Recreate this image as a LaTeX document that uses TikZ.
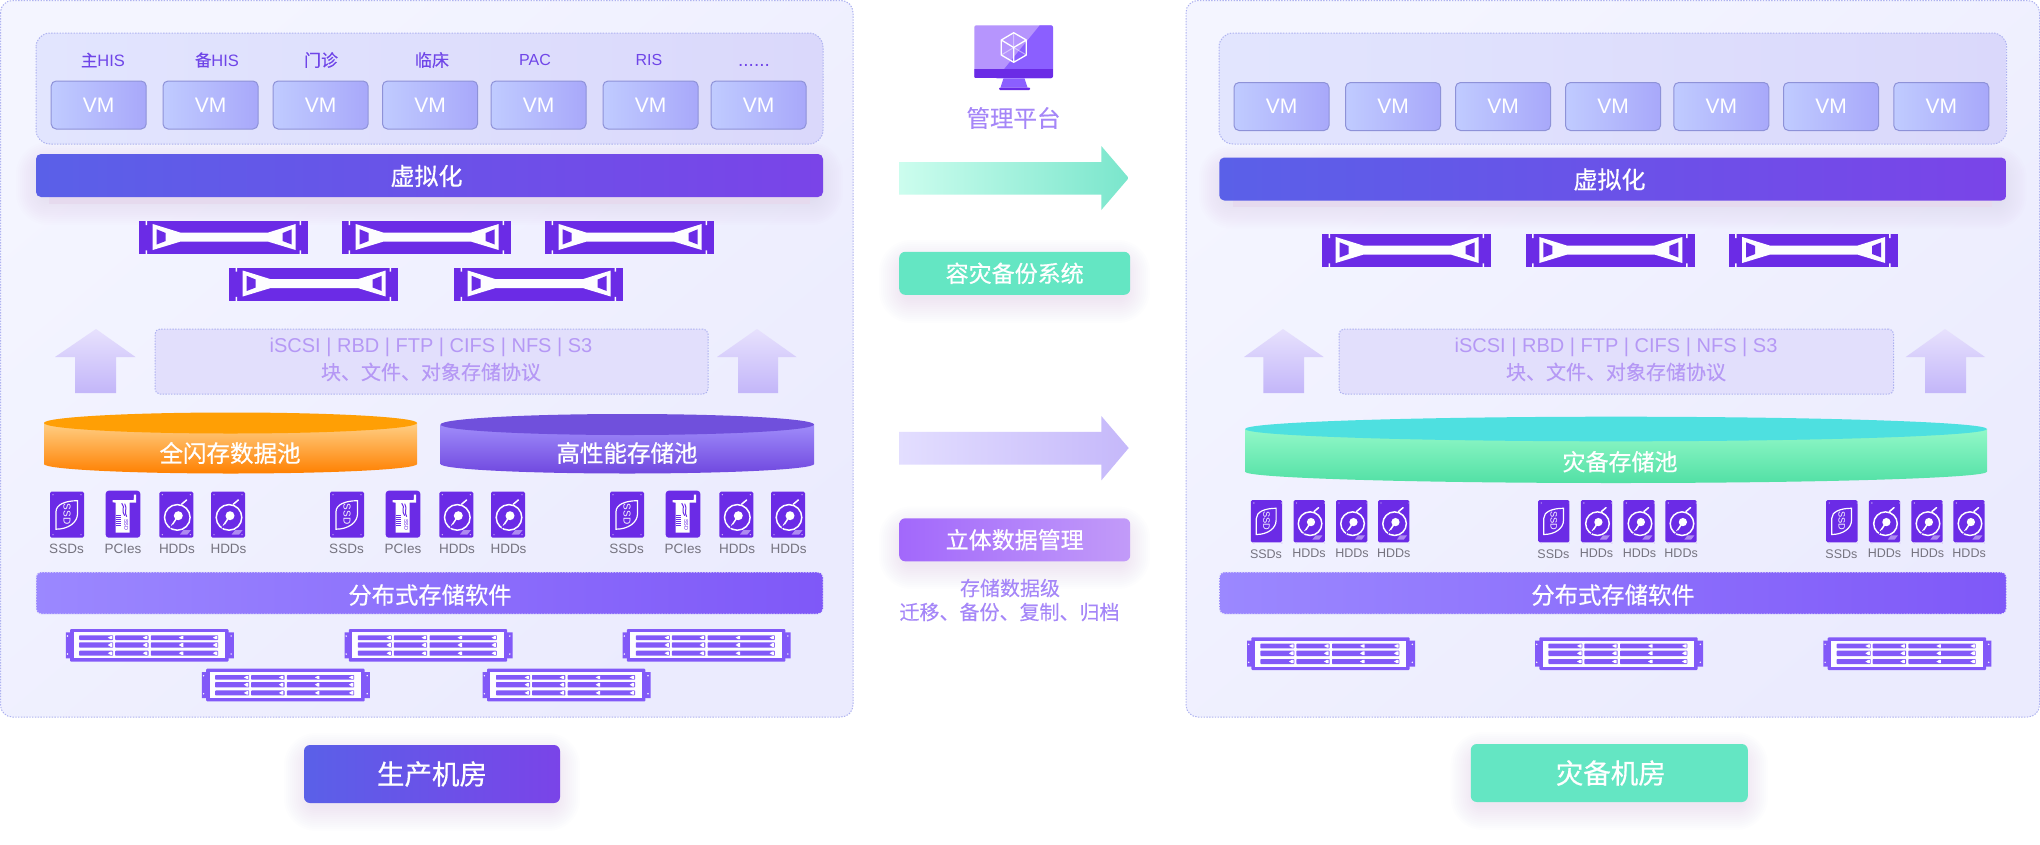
\documentclass[tikz,border=0pt]{standalone}
\usepackage{fontspec}
\setmainfont{Liberation Sans}
\newfontfamily\cjk[FakeBold=0.12]{Noto Sans CJK SC}
\newfontfamily\cjkm[FakeBold=0.6]{Noto Sans CJK SC}
\newcommand\px[1]{\fontsize{#1}{#1}\selectfont}
\definecolor{panelA}{HTML}{F4F5FF}
\definecolor{panelB}{HTML}{EBEBFE}
\definecolor{dotline}{HTML}{AEB2F0}
\definecolor{contA}{HTML}{E2E5FE}
\definecolor{contB}{HTML}{DAD8FB}
\definecolor{vmA}{HTML}{C0CBFF}
\definecolor{vmB}{HTML}{A8A8FA}
\definecolor{vmline}{HTML}{8E92D8}
\definecolor{grA}{HTML}{5A60E8}
\definecolor{grB}{HTML}{7A44E8}
\definecolor{deep}{HTML}{6B2BE6}
\definecolor{soft}{HTML}{8259F8}
\definecolor{softA}{HTML}{9B88FF}
\definecolor{softB}{HTML}{7F58F8}
\definecolor{lilac}{HTML}{A586F8}
\definecolor{labelpurple}{HTML}{6F45E8}
\definecolor{proto}{HTML}{B598F5}
\definecolor{protofill}{HTML}{E2DFFC}
\definecolor{mint}{HTML}{64E6C3}
\definecolor{strip}{HTML}{E6DAEE}
\definecolor{grey}{HTML}{75737F}
\definecolor{shadowc}{HTML}{7A6AD8}
\definecolor{arrowTop}{HTML}{E7E1FD}
\definecolor{arrowBot}{HTML}{C3B6F9}
\definecolor{greenA}{HTML}{CCFDEE}
\definecolor{greenB}{HTML}{7AE6CC}
\definecolor{pale}{HTML}{E3DEFF}
\definecolor{paleB}{HTML}{C5B8FA}
\definecolor{dmA}{HTML}{A268FB}
\definecolor{dmB}{HTML}{C29BF9}
\definecolor{orTop}{HTML}{FF9F05}
\definecolor{orA}{HTML}{FFCF85}
\definecolor{orB}{HTML}{FF8000}
\definecolor{puTop}{HTML}{7050DC}
\definecolor{puA}{HTML}{9F8CFA}
\definecolor{puB}{HTML}{7048DF}
\definecolor{teTop}{HTML}{4EE0E0}
\definecolor{teA}{HTML}{92F8C8}
\definecolor{teB}{HTML}{52E0A5}
\definecolor{scrL}{HTML}{B695FD}
\definecolor{scrR}{HTML}{8B5FFF}
\tikzset{
  cn/.style={inner sep=0pt,outer sep=0pt,font=\cjk\px{#1}},
  cw/.style={inner sep=0pt,outer sep=0pt,text=white,font=\cjkm\px{#1}},
  dotted line/.style={draw=dotline,line width=1pt,dash pattern=on 1.4pt off 1.4pt},
  panelbox/.style={dotted line,rounded corners=12pt,top color=panelA,bottom color=panelB,shading angle=40},
  contbox/.style={dotted line,rounded corners=14pt,left color=contA,right color=contB},
  vm/.style={draw=vmline,line width=1pt,rounded corners=5pt,left color=vmA,right color=vmB,text=white,font=\px{21},minimum width=95pt,minimum height=48pt,inner sep=0pt},
  virtbar/.style={rounded corners=5pt,left color=grA,right color=grB,minimum width=787pt,minimum height=43pt,inner sep=0pt},
  softbar/.style={draw=white!70!dotline,line width=1pt,dash pattern=on 1.4pt off 1.4pt,rounded corners=5pt,left color=softA,right color=softB,minimum width=787pt,minimum height=42pt,inner sep=0pt},
  protobox/.style={dotted line,rounded corners=5pt,fill=protofill,minimum height=65pt,inner sep=0pt},
  disklabel/.style={inner sep=0pt,text=grey,font=\px{13.5}},
  rackicon/.pic={
    \fill[deep] (0,0) rectangle (169,33.3);
    \fill[white!90!panelB] (6.5,0) rectangle (8,4) (6.5,29.3) rectangle (8,33.3) (160.5,0) rectangle (162,4) (160.5,29.3) rectangle (162,33.3);
    \fill[white!90!panelB] (13.7,3) -- (41.7,11.7) -- (128.7,11.7) -- (156.7,3) -- (156.7,29) -- (128.7,20.5) -- (41.7,20.5) -- (13.7,29) -- cycle;
    \fill[deep] (17.7,8.3) -- (26.7,12) -- (26.7,20) -- (17.7,23.5) -- cycle (152.7,8.3) -- (143.7,12) -- (143.7,20) -- (152.7,23.5) -- cycle;
  },
  storeicon/.pic={
    \fill[soft] (0,3.3) rectangle (5,29.4) (162,3.3) rectangle (168,29.4);
    \fill[soft,rounded corners=1pt] (4.3,0) rectangle (162.7,32.7);
    \fill[white] (1.7,7) circle (.8) (1.7,25) circle (.8) (165.3,7) circle (.8) (165.3,25) circle (.8);
    \fill[white!92!panelB] (7.7,3.3) rectangle (159.3,29.3);
    \foreach \ya/\yb in {6.3/11,13.3/18.7,21.7/26.7}{
      \fill[soft,rounded corners=.7pt] (13.3,\ya) rectangle (47.3,\yb);
      \fill[soft,rounded corners=.7pt] (49.3,\ya) rectangle (82.7,\yb);
      \fill[soft,rounded corners=.7pt] (85,\ya) rectangle (152.3,\yb);
      \foreach \xx in {42,77,113,147}
        \fill[white] (\xx,{(\ya+\yb)/2}) -- ({\xx+3},{\ya+.8}) -- ({\xx+4.5},{\ya+.8}) -- ({\xx+4.5},{\yb-.8}) -- ({\xx+3},{\yb-.8}) -- cycle;
    }
  },
  dotsicon/.pic={
    \fill[white!70!deep] (3,3) circle (.7) (31,3) circle (.7) (3,43) circle (.7) (31,43) circle (.7);
  },
  ssdicon/.pic={
    \fill[deep,rounded corners=1.5pt] (0,0) rectangle (34,46);
    \pic {dotsicon};
    \draw[white,line width=1.2pt] (6,37.5) -- (6,20) .. controls (6,13) and (15,9) .. (27.5,9) -- (27.5,22) .. controls (27.5,31) and (18,37.5) .. (6,37.5) -- cycle;
    \node[rotate=-90,transform shape,inner sep=0pt,text=white,font=\px{10}] at (17,22.5) {SSD};
  },
  hddicon/.pic={
    \fill[deep,rounded corners=1.5pt] (0,0) rectangle (34,46);
    \pic {dotsicon};
    \draw[white,line width=1.5pt] (18,25.7) circle (12.8);
    \fill[white] (19,24) circle (4.5);
    \draw[white,line width=1.5pt] (19,24) -- (12.3,34);
    \draw[deep,line width=1pt] (11,36.5) -- (14,33);
    \draw[white,line width=1.5pt,line cap=round] (22.3,12.5) -- (27.3,8.3);
    \fill[white!45!deep] (24,38.5) -- (31.5,38.5) -- (28,43) -- (20.5,43) -- cycle;
  },
  pcieicon/.pic={
    \fill[deep,rounded corners=3pt] (0,0) rectangle (34.6,47);
    \fill[white] (7,9.3) -- (28,9.3) -- (28.2,4) -- (30.3,4) -- (30.3,11.8) -- (24,11.8) -- (24,42) -- (10,42) -- (10,12) -- (7,11.5) -- cycle;
    \draw[deep,line width=1pt] (16,12.5) .. controls (20,17) and (15,20) .. (19,25);
    \draw[deep,line width=1pt] (19,13) .. controls (22,18) and (18,22) .. (21,26);
    \foreach \yy in {24.5,26.5,...,34.5} \draw[deep,line width=.8pt] (10,\yy) -- (15,\yy);
    \node[rotate=-90,transform shape,inner sep=0pt,text=deep,font=\px{5.5}] at (20.5,34) {SSD};
  },
}
\newcommand\softshadow[5]{%
  \foreach \s in {0,2,...,24}{
    \pgfmathsetmacro\rr{8+\s}
    \fill[shadowc,opacity=#5,rounded corners=\rr pt] ({#1-\s+4},{#2-\s+12}) rectangle ({#3+\s-4},{#4+\s+4});
  }
}
\newcommand\bigup[6]{% tip x, tip y, head l, head r, shaft l, shaft r
  \shade[top color=arrowTop,bottom color=arrowBot] (#1,#2) -- (#4,357) -- (#6,357) -- (#6,393) -- (#5,393) -- (#5,357) -- (#3,357) -- cycle;
}
\newcommand\poolshape[9]{% x1 x2 yc ry ybs bulge top bodyA bodyB
  \pgfmathsetmacro\rxv{(#2-#1)/2}
  \pgfmathsetmacro\cxv{(#2+#1)/2}
  \shade[top color=#8,bottom color=#9] (#1,#3) -- (#1,#5) arc[start angle=180,end angle=360,x radius=\rxv pt,y radius=#6 pt] -- (#2,#3) -- cycle;
  \fill[#7] (\cxv,#3) ellipse [x radius=\rxv pt,y radius=#4 pt];
}
\begin{document}
\begin{tikzpicture}[x=1pt,y=-1pt]
\useasboundingbox (0,0) rectangle (2040,844);
\fill[white] (0,0) rectangle (2040,844);

% panels
\shade[panelbox] (0.5,0.5) rectangle (853,717);
\shade[panelbox] (1186,0.5) rectangle (2039.5,717);

% ---------- left top
\shade[contbox] (36,33) rectangle (823,144);
\foreach \n/\c/\t in {a/103/主,b/217/备}
  \node[cn=16.5,text=labelpurple] (lab\n) at (\c,60) {\t\rmfamily HIS};
\node[cn=17,text=labelpurple] (labc) at (321,60) {门诊};
\node[cn=17,text=labelpurple] (labd) at (432,60) {临床};
\node[inner sep=0pt,text=labelpurple,font=\px{16}] (labe) at (535,60) {PAC};
\node[inner sep=0pt,text=labelpurple,font=\px{16}] (labf) at (649,60) {RIS};
\node[inner sep=0pt,text=labelpurple,font=\px{19}] (labg) at (754,65) {......};
\foreach \i/\c in {1/98.7,2/210.5,3/320.6,4/430,5/538.5,6/650.5,7/758.5}
  \node[vm] (vmL\i) at (\c,105) {VM};
\softshadow{36}{154}{823}{197}{.009}
\fill[strip] (49,190) rectangle (810,204);
\node[virtbar] (virtL) at (429.5,175.5) {};
\node[cw=24] (virtLt) at (426.5,176) {虚拟化};
\foreach \i/\xx/\yy in {1/139/221,2/342/221,3/545/221,4/229/267.5,5/454/267.5}
  \pic (rackL\i) at (\xx,\yy) {rackicon};

% protocol left
\node[protobox,minimum width=553pt] (protoL) at (431.5,361.5) {};
\node[inner sep=0pt,text=proto,font=\px{20}] (pL1) at (431,347) {iSCSI | RBD | FTP | CIFS | NFS | S3};
\node[cn=20,text=proto] (pL2) at (431,372) {块、文件、对象存储协议};
\bigup{96}{329}{55}{135.5}{75}{116}
\bigup{757}{329}{717}{796.5}{738}{778}

% pools left
\poolshape{44}{417}{423}{10.5}{464}{9.5}{orTop}{orA}{orB}
\node[cw=23.5] (poolA) at (230,453) {全闪存数据池};
\poolshape{440.5}{814}{424.5}{10.5}{464}{9.5}{puTop}{puA}{puB}
\node[cw=23.5] (poolB) at (627,453) {高性能存储池};

% disks left
\foreach \g in {0,280,560}{
  \pic at ({50+\g},491.7) {ssdicon};
  \pic at ({105.7+\g},490.7) {pcieicon};
  \pic at ({159.3+\g},491.7) {hddicon};
  \pic at ({211+\g},491.7) {hddicon};
  \node[disklabel] at ({66.5+\g},549) {SSDs};
  \node[disklabel] at ({123+\g},549) {PCIes};
  \node[disklabel] at ({177+\g},549) {HDDs};
  \node[disklabel] at ({228.5+\g},549) {HDDs};
}
\node[softbar] (softL) at (429.5,593) {};
\node[cw=23.3] (softLt) at (430,595) {分布式存储软件};
\foreach \i/\xx/\yy in {1/65.8/629,2/344.5/629,3/622.6/629,4/201.9/668.7,5/482.7/668.7}
  \pic (storeL\i) at (\xx,\yy) {storeicon};

% bottom left
\softshadow{304}{745}{560}{803}{.009}
\node[rounded corners=6pt,left color=grA,right color=grB,text=white,font=\cjkm\px{27.5},minimum width=256pt,minimum height=58pt,inner sep=0pt] (roomL) at (432,774) {生产机房};

% ---------- middle
\begin{scope}
\clip[rounded corners=2pt] (974.3,25.3) rectangle (1053,78.3);
\fill[scrL] (974.3,25.3) rectangle (1053,78.3);
\fill[scrR] (1040,25) -- (1053,25) -- (1053,79) -- (996,79) -- cycle;
\fill[deep] (974.3,69) rectangle (1053,78.3);
\end{scope}
\fill[scrR] (1003.5,78.3) -- (1024.5,78.3) -- (1027.5,87.5) -- (1000.5,87.5) -- cycle;
\fill[deep,rounded corners=1pt] (999,87.5) rectangle (1030,90);
\draw[white,opacity=.45,line width=1pt] (1013.7,47.5) -- (1013.7,32.7) (1013.7,47.5) -- (1001.3,55) (1013.7,47.5) -- (1026.3,55);
\draw[white,line width=1.3pt,line join=round] (1013.7,32.7) -- (1026.3,40) -- (1026.3,55) -- (1013.7,62.3) -- (1001.3,55) -- (1001.3,40) -- cycle (1001.3,40) -- (1013.7,47.5) -- (1026.3,40) (1013.7,47.5) -- (1013.7,62.3);
\node[cn=23.5,text=lilac] (mgmt) at (1013.5,118) {管理平台};

\shade[left color=greenA,right color=greenB] (899,162) -- (1101.3,162) -- (1101.3,146) -- (1128.7,178) -- (1101.3,210) -- (1101.3,194.7) -- (899,194.7) -- cycle;
\softshadow{899}{252}{1130}{295}{.009}
\node[rounded corners=6pt,fill=mint,text=white,font=\cjkm\px{23},minimum width=231pt,minimum height=43pt,inner sep=0pt] (dr) at (1014.7,273.3) {容灾备份系统};

\shade[left color=pale,right color=paleB] (899,431.8) -- (1101.3,431.8) -- (1101.3,416) -- (1128.7,448) -- (1101.3,480.4) -- (1101.3,464.5) -- (899,464.5) -- cycle;
\softshadow{899}{518.4}{1130}{561}{.009}
\node[rounded corners=6pt,left color=dmA,right color=dmB,text=white,font=\cjkm\px{23},minimum width=231pt,minimum height=43pt,inner sep=0pt] (dm) at (1014.7,539.8) {立体数据管理};
\node[cn=20,text=lilac] (dm1) at (1010,588) {存储数据级};
\node[cn=20,text=lilac] (dm2) at (1009.5,612) {迁移、备份、复制、归档};

% ---------- right top
\shade[contbox] (1219,33) rectangle (2006.6,144);
\foreach \i/\c in {1/1281.5,2/1393,3/1503,4/1613,5/1721.3,6/1831,7/1941.3}
  \node[vm] (vmR\i) at (\c,106.5) {VM};
\softshadow{1219}{157.3}{2006.6}{200.7}{.009}
\fill[strip] (1232.7,193) rectangle (1992,207);
\node[virtbar] (virtR) at (1612.8,179) {};
\node[cw=24] (virtRt) at (1609.5,179.5) {虚拟化};
\foreach \i/\xx in {1/1322,2/1525.6,3/1728.5}
  \pic (rackR\i) at (\xx,234) {rackicon};

\node[protobox,minimum width=554.6pt] (protoR) at (1616.3,361.5) {};
\node[inner sep=0pt,text=proto,font=\px{20}] (pR1) at (1616,347) {iSCSI | RBD | FTP | CIFS | NFS | S3};
\node[cn=20,text=proto] (pR2) at (1616,372) {块、文件、对象存储协议};
\bigup{1283}{329}{1244}{1323.7}{1263.4}{1304}
\bigup{1945}{329}{1905.7}{1985}{1925}{1966}

\poolshape{1245}{1987}{429}{12.3}{471.7}{11.3}{teTop}{teA}{teB}
\node[cw=23] (poolC) at (1620,461.7) {灾备存储池};

\foreach \g in {0,287.4,575.4}{
  \pic[scale=.92] at ({1250.8+\g},500) {ssdicon};
  \pic[scale=.92] at ({1293.5+\g},500) {hddicon};
  \pic[scale=.92] at ({1336+\g},500) {hddicon};
  \pic[scale=.92] at ({1378+\g},500) {hddicon};
  \node[disklabel,font=\px{12.5}] at ({1266+\g},553.7) {SSDs};
  \node[disklabel,font=\px{12.5}] at ({1309+\g},553.7) {HDDs};
  \node[disklabel,font=\px{12.5}] at ({1352+\g},553.7) {HDDs};
  \node[disklabel,font=\px{12.5}] at ({1393.7+\g},553.7) {HDDs};
}
\node[softbar] (softR) at (1612.8,593) {};
\node[cw=23.3] (softRt) at (1613,595) {分布式存储软件};
\foreach \i/\xx in {1/1247,2/1535,3/1823.4}
  \pic (storeR\i) at (\xx,637.3) {storeicon};

\softshadow{1470.7}{744}{1748}{802}{.009}
\node[rounded corners=6pt,fill=mint,text=white,font=\cjkm\px{27.5},minimum width=277pt,minimum height=58pt,inner sep=0pt] (roomR) at (1609.3,773) {\hspace*{3pt}灾备机房};
\end{tikzpicture}
\end{document}
